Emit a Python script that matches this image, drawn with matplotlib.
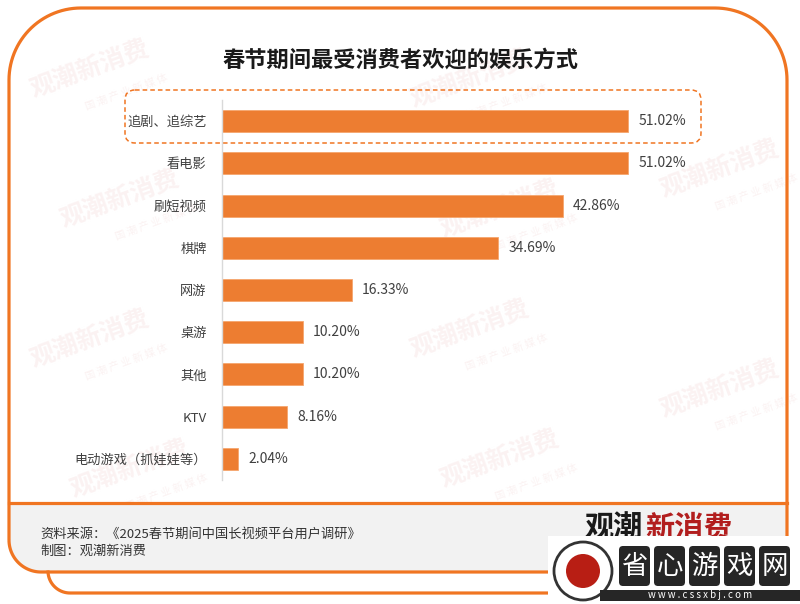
import numpy as np
import matplotlib.pyplot as plt
from matplotlib.patches import PathPatch, FancyBboxPatch, Rectangle, Circle
from matplotlib.path import Path

plt.rcParams['font.family'] = ['Noto Sans CJK SC', 'DejaVu Sans']

categories = ['追剧、追综艺', '看电影', '刷短视频', '棋牌', '网游', '桌游', '其他', 'KTV', '电动游戏（抓娃娃等）']
values = [51.02, 51.02, 42.86, 34.69, 16.33, 10.20, 10.20, 8.16, 2.04]
title = '春节期间最受消费者欢迎的娱乐方式'
source = '资料来源：《2025春节期间中国长视频平台用户调研》'
maker = '制图：观潮新消费'

ORANGE = '#F07522'
BAR = '#ED7D31'
W, H = 800, 604

fig = plt.figure(figsize=(8, 6.04), dpi=100)

# background layer in pixel coords
bg = fig.add_axes([0, 0, 1, 1])
bg.set_xlim(0, W)
bg.set_ylim(H, 0)
bg.axis('off')


def arc(cx, cy, r, a0, a1, n=30):
    t = np.radians(np.linspace(a0, a1, n))
    return list(zip(cx + r * np.cos(t), cy + r * np.sin(t)))


# footer fill
L, R, T, B = 9, 787, 8, 572
rt, rb = 72, 32
foot = [(L, 503), (R, 503), (R, B - rb)] + arc(R - rb, B - rb, rb, 0, 90) + arc(L + rb, B - rb, rb, 90, 180) + [(L, 503)]
bg.add_patch(PathPatch(Path(foot), facecolor='#F2F2F2', edgecolor='none'))

# main frame outline
pts = [(L, B - rb)] + arc(L + rt, T + rt, rt, 180, 270) + arc(R - rt, T + rt, rt, 270, 360) + \
      [(R, B - rb)] + arc(R - rb, B - rb, rb, 0, 90) + arc(L + rb, B - rb, rb, 90, 180)
bg.add_patch(PathPatch(Path(pts), facecolor='none', edgecolor=ORANGE, lw=2.3))
bg.plot([L, R], [503, 503], color=ORANGE, lw=2.3)
# second offset line under the footer
sh = [(48, 572)] + arc(70, 571, 22, 180, 90, 20)[1:] + [(R, 593)]
bg.plot([p[0] for p in sh], [p[1] for p in sh], color=ORANGE, lw=2.3)

# faint watermarks
for (x, y) in [(90, 70), (470, 80), (120, 200), (500, 210), (90, 340), (470, 330), (130, 470), (500, 460), (720, 170), (720, 390)]:
    bg.text(x, y, '观潮新消费', fontsize=18, fontweight='bold', color='#FBF2F2', rotation=20,
            ha='center', va='center', zorder=0.5)
    bg.text(x + 36, y + 22, '国 潮 产 业 新 媒 体', fontsize=7.5, color='#FBF2F2', rotation=20,
            ha='center', va='center', zorder=0.5)

# title
bg.text(400, 60, title, fontsize=16, fontweight='bold', color='#1A1A1A', ha='center', va='center')

# highlight box around the first bar
bg.add_patch(FancyBboxPatch((125, 90), 576, 53, boxstyle='round,pad=0,rounding_size=10',
                            facecolor='none', edgecolor=ORANGE, lw=1.1, ls=(0, (3, 2))))

# footer texts
bg.text(40, 534, source, fontsize=9.5, color='#333333', ha='left', va='center')
bg.text(40, 551, maker, fontsize=9.5, color='#333333', ha='left', va='center')
bg.text(643, 528, '观潮', fontsize=21, fontweight='bold', color='#1A1A1A', ha='right', va='center')
bg.text(645, 528, '新消费', fontsize=21, fontweight='bold', color='#B21E1E', ha='left', va='center')

# overlaid site badge
bg.add_patch(Rectangle((548, 536), 252, 68, facecolor='white', edgecolor='none', zorder=5))
bg.add_patch(Circle((583, 571), 29, facecolor='white', edgecolor='#333333', lw=2, zorder=6))
bg.add_patch(Circle((583, 571), 17, facecolor='#B81E14', edgecolor='none', zorder=6))
for i, ch in enumerate('省心游戏网'):
    bx = 619 + i * 35
    bg.add_patch(FancyBboxPatch((bx, 546), 31, 40, boxstyle='round,pad=0,rounding_size=4',
                                facecolor='#262626', edgecolor='none', zorder=6))
    bg.text(bx + 15.5, 566, ch, fontsize=19, color='white', ha='center', va='center', zorder=7)
bg.add_patch(Rectangle((600, 590), 200, 11, facecolor='#262626', edgecolor='none', zorder=6))
bg.text(700, 595.5, 'w w w . c s s x b j . c o m', fontsize=7, color='white', ha='center', va='center', zorder=7)

# bar chart axes: x from 222px, 7.96 px per unit; rows from y=100 to 480
k = 7.96
xmax = 70
ax = fig.add_axes([222 / W, 1 - 480 / H, xmax * k / W, 380 / H])
ax.patch.set_alpha(0)
ypos = np.arange(len(categories))
ax.barh(ypos, values, height=0.52, color=BAR, edgecolor='#F5A66E', lw=0.6)
for y, v in zip(ypos, values):
    ax.text(v + 10 / k, y, f'{v:.2f}%', fontsize=10, color='#404040', ha='left', va='center')
ax.set_xlim(0, xmax)
ax.set_ylim(len(categories) - 0.5, -0.5)
ax.set_yticks(ypos)
ax.set_yticklabels(categories, fontsize=9.5, color='#404040')
ax.tick_params(axis='y', length=0, pad=11)
ax.set_xticks([])
for s in ['top', 'right', 'bottom']:
    ax.spines[s].set_visible(False)
ax.spines['left'].set_color('#D9D9D9')
ax.spines['left'].set_linewidth(1)

fig.savefig('out.png', dpi=100)
